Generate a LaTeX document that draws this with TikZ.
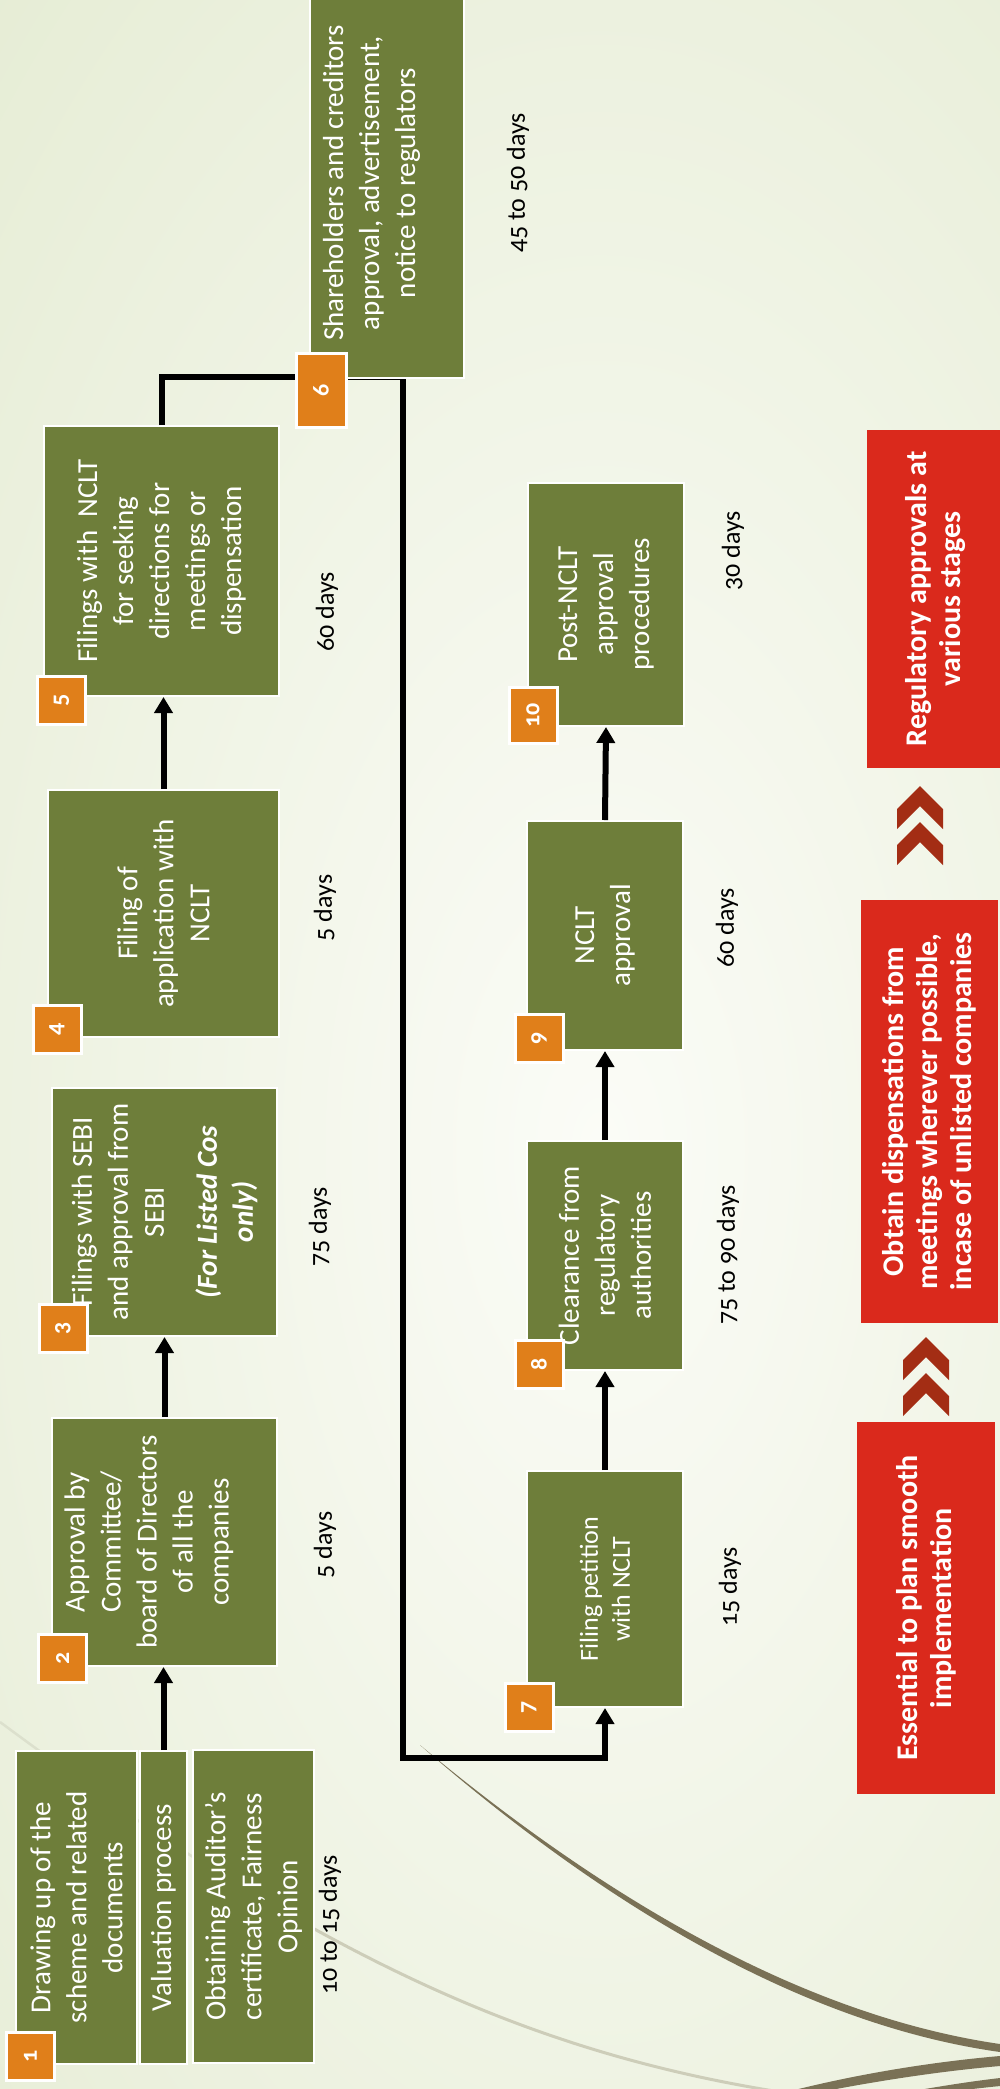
\documentclass[tikz,border=0pt]{standalone}
\usepackage{fontspec}
\setmainfont{Carlito}[Numbers=OldStyle]
\usetikzlibrary{arrows.meta}

\definecolor{bgin}{RGB}{251,252,247}
\definecolor{bgout}{RGB}{225,233,205}
\definecolor{stepgreen}{RGB}{110,126,58}
\definecolor{badgeorange}{RGB}{224,127,26}
\definecolor{notered}{RGB}{218,41,28}
\definecolor{chevred}{RGB}{163,45,20}
\definecolor{wisp}{RGB}{122,113,86}
\definecolor{wisppale}{RGB}{205,205,185}
\definecolor{wispfaint}{RGB}{220,224,205}

\tikzset{
  stepbox/.style={rotate=90, fill=stepgreen, draw=white, line width=2pt,
    text=white, font=\fontsize{29}{36}\selectfont, align=center, inner sep=0pt},
  smallstep/.style={stepbox, font=\fontsize{26}{32}\selectfont},
  badge/.style={rotate=90, fill=badgeorange, draw=white, line width=3pt,
    text=white, font=\fontsize{24}{24}\selectfont\bfseries,
    minimum width=48pt, minimum height=48pt, inner sep=0pt},
  daylabel/.style={rotate=90, font=\fontsize{26}{30}\selectfont, text=black, inner sep=0pt},
  note/.style={rotate=90, fill=notered, text=white,
    font=\fontsize{30}{34}\selectfont\bfseries, align=center, inner sep=0pt},
  flow/.style={line width=6pt, -{Triangle[width=18pt,length=16pt]}},
}

\begin{document}
\begin{tikzpicture}[x=1pt,y=-1pt]
\useasboundingbox (0,0) rectangle (1000,2089);
\clip (0,0) rectangle (1000,2089);

% background wash
\fill[bgout] (0,0) rectangle (1000,2089);
\shade[inner color=bgin, outer color=bgout] (600,1150) ellipse [x radius=1100pt, y radius=2000pt];

% decorative swooshes
\draw[wispfaint, line width=2.5pt] (0,1722) .. controls (100,1796) and (200,1866) .. (300,1921);
\draw[wisppale, line width=3pt] (300,1921) .. controls (450,2005) and (600,2066) .. (800,2095);
\fill[wisp] (420,1745) .. controls (600,1895) and (800,2015) .. (1000,2044)
  -- (1000,2052) .. controls (800,2024) and (600,1902) .. (420,1745) -- cycle;
\fill[wisp] (775,2095) .. controls (850,2075) and (930,2062) .. (1000,2056)
  -- (1000,2066) .. controls (930,2072) and (860,2084) .. (805,2095) -- cycle;
\fill[wisp] (890,2095) .. controls (930,2088) and (965,2082) .. (1000,2078)
  -- (1000,2086) .. controls (970,2089) and (940,2093) .. (915,2095) -- cycle;

% route from step 5 round to step 7 (partly hidden by step 6)
\coordinate (railtop) at (403,377);
\coordinate (railbot) at (403,1758);

% process steps
\node[stepbox, minimum width=313pt, minimum height=121pt] (s1a) at (76.5,1907.5)
  {Drawing up of the\\scheme and related\\documents};
\node[stepbox, minimum width=313pt, minimum height=47pt] (s1b) at (163.5,1907.5)
  {Valuation process};
\node[stepbox, minimum width=313pt, minimum height=121pt] (s1c) at (253.5,1906.5)
  {Obtaining Auditor’s\\certificate, Fairness\\Opinion};
\node[stepbox, minimum width=248pt, minimum height=225pt] (s2) at (164.5,1542)
  {Approval by\\Committee/\\board of Directors\\of all the\\companies\\\mbox{}};
\node[stepbox, minimum width=248pt, minimum height=225pt] (s3) at (164.5,1212)
  {Filings with SEBI\\and approval from\\SEBI\\[17pt]\textbf{\textit{(For Listed Cos}}\\\textbf{\textit{only)}}};
\node[stepbox, minimum width=247pt, minimum height=231pt] (s4) at (163.5,913.5)
  {Filing of\\application with\\NCLT};
\node[stepbox, minimum width=270pt, minimum height=235pt] (s5) at (161.5,561)
  {Filings with\ \ NCLT\\for seeking\\directions for\\meetings or\\dispensation};
\node[smallstep, minimum width=236pt, minimum height=156pt] (s7) at (605,1589)
  {Filing petition\\with NCLT};
\node[stepbox, minimum width=229pt, minimum height=156pt] (s8) at (605,1255.5)
  {Clearance from\\regulatory\\authorities};
\node[stepbox, minimum width=229pt, minimum height=156pt] (s9) at (605,935.5)
  {NCLT\\approval};
\node[stepbox, minimum width=243pt, minimum height=156pt] (s10) at (606,604.5)
  {Post-NCLT\\approval\\procedures};

% connectors
\draw[flow] (s1b.east) -- (s1b.east |- s2.west);
\draw[flow] (s2.east) -- (s2.east |- s3.west);
\draw[flow] (s4.east) -- (s4.east |- s5.west);
\draw[flow] (s5.east) -- (s5.east |- railtop) -- (railtop) -- (railbot)
  -- (railbot -| s7.west) -- (s7.west);
\draw[flow] (s7.east) -- (s8.west);
\draw[flow] (s8.east) -- (s9.west);
\draw[flow] (s9.east) -- (s10.west);

% step 6 sits on the route
\node[stepbox, minimum width=390pt, minimum height=154pt] (s6) at (387,183)
  {Shareholders and creditors\\approval, advertisement,\\notice to regulators\\\mbox{}};

% step numbers
\node[badge] (b1) at (30.5,2056.5) {1};
\node[badge] (b2) at (62.5,1658.5) {2};
\node[badge] (b3) at (63,1328) {3};
\node[badge] (b4) at (57,1029) {4};
\node[badge] (b5) at (61.5,700.5) {5};
\node[badge, minimum width=74pt, minimum height=50pt] (b6) at (321,390) {6};
\node[badge] (b7) at (529,1707) {7};
\node[badge] (b8) at (539,1364) {8};
\node[badge] (b9) at (539,1038.5) {9};
\node[badge, minimum width=56pt] (b10) at (533,715) {10};

% durations
\node[daylabel] (d1) at (330,1925) {10 to 15 days};
\node[daylabel] (d2) at (325,1545) {5 days};
\node[daylabel] (d3) at (320,1227) {75 days};
\node[daylabel] (d4) at (325,908) {5 days};
\node[daylabel] (d5) at (327,612) {60 days};
\node[daylabel] (d6) at (518,183) {45 to 50 days};
\node[daylabel] (d7) at (730,1587) {15 days};
\node[daylabel] (d8) at (728,1255) {75 to 90 days};
\node[daylabel] (d9) at (727,928) {60 days};
\node[daylabel] (d10) at (733,551) {30 days};

% key points
\node[note, minimum width=338pt, minimum height=138pt] (n1) at (936,599)
  {Regulatory approvals at\\various stages};
\node[note, minimum width=423pt, minimum height=137pt] (n2) at (929.5,1111.5)
  {Obtain dispensations from\\meetings wherever possible,\\incase of unlisted companies};
\node[note, minimum width=372pt, minimum height=138pt] (n3) at (926,1608)
  {Essential to plan smooth\\implementation};

% chevrons between key points
\foreach \cx/\t in {920/786, 920/822, 926/1337, 926/1373}
  \fill[chevred] (\cx,\t) -- ++(23,23) -- ++(0,20) -- ++(-23,-23)
    -- ++(-23,23) -- ++(0,-20) -- cycle;
\end{tikzpicture}
\end{document}
